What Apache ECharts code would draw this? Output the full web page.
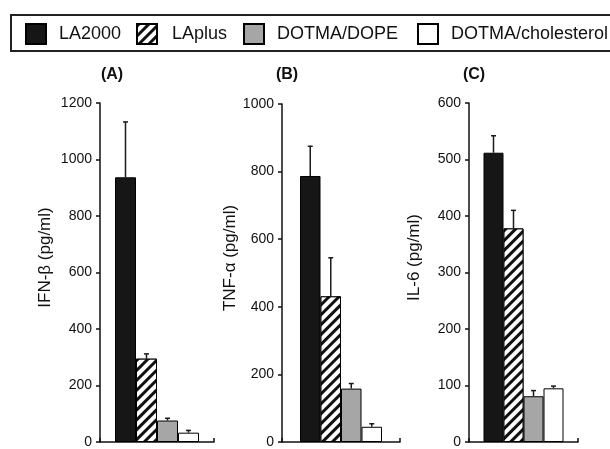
<!DOCTYPE html>
<html>
<head>
<meta charset="utf-8">
<script src="https://cdn.jsdelivr.net/npm/echarts@6/dist/echarts.min.js"></script>
<style>
html,body{margin:0;padding:0;background:#fff;}
#chart{width:610px;height:449px;}
</style>
</head>
<body>
<div id="chart"></div>
<script>
// ---- data ----
const formulations = ['LA2000', 'LAplus', 'DOTMA/DOPE', 'DOTMA/cholesterol'];
const panelTitles = ['(A)', '(B)', '(C)'];
const axisNames = ['IFN-\u03b2 (pg/ml)', 'TNF-\u03b1 (pg/ml)', 'IL-6 (pg/ml)'];
// panel A: IFN-beta
const ifnMean = [937, 295, 76, 33];
const ifnErr = [196, 17, 8, 8];
// panel B: TNF-alpha
const tnfMean = [787, 431, 158, 45];
const tnfErr = [88, 114, 15, 9];
// panel C: IL-6
const il6Mean = [512, 378, 81, 95];
const il6Err = [30, 32, 10, 4];
const yMax = [1200, 1000, 600];
const yStep = [200, 200, 100];

// ---- layout / style ----
const means = [ifnMean, tnfMean, il6Mean];
const errs = [ifnErr, tnfErr, il6Err];
const grids = [
  {left: 100, top: 103, width: 114, height: 341},
  {left: 282, top: 104, width: 118, height: 340},
  {left: 469, top: 103, width: 109, height: 341}
];
const barW = [21, 20.5, 20];
const FONT = '"Liberation Sans", Arial, sans-serif';

const styles = [
  {color: '#161616', borderColor: '#000', borderWidth: 1},
  {color: '#ffffff', borderColor: '#000', borderWidth: 1,
   decal: {symbol: 'rect', symbolSize: 1, dashArrayX: [1, 0], dashArrayY: [2.6, 3.4],
           rotation: -Math.PI / 4, color: '#111', backgroundColor: '#fff'}},
  {color: '#a6a6a6', borderColor: '#000', borderWidth: 1},
  {color: '#ffffff', borderColor: '#000', borderWidth: 1}
];

const series = [];
for (let p = 0; p < 3; p++) {
  for (let i = 0; i < 4; i++) {
    series.push({
      name: formulations[i], type: 'bar', xAxisIndex: p, yAxisIndex: p,
      data: [means[p][i]], barWidth: barW[p], barGap: '0%',
      itemStyle: styles[i], silent: true, animation: false
    });
  }
  const errData = means[p].map((m, i) => [0, m, m + errs[p][i], i]);
  const bw = barW[p];
  series.push({
    type: 'custom', xAxisIndex: p, yAxisIndex: p, data: errData, z: 5,
    animation: false, silent: true,
    encode: {x: 0, y: [1, 2]},
    renderItem: function (params, api) {
      const base = api.coord([api.value(0), api.value(1)]);
      const top = api.coord([api.value(0), api.value(2)]);
      const x = base[0] + (api.value(3) - 1.5) * bw;
      const st = {stroke: '#1a1a1a', lineWidth: 1.5};
      return {type: 'group', children: [
        {type: 'line', shape: {x1: x, y1: base[1], x2: x, y2: top[1]}, style: st},
        {type: 'line', shape: {x1: x - 2.5, y1: top[1], x2: x + 2.5, y2: top[1]}, style: st}
      ]};
    }
  });
}

const nameGaps = [46, 41, 46];
const legendLeft = [25, 136, 243, 417];

const option = {
  backgroundColor: '#fff',
  animation: false,
  textStyle: {fontFamily: FONT},
  grid: grids,
  xAxis: grids.map((g, p) => ({
    type: 'category', gridIndex: p, data: [''], boundaryGap: true,
    axisLine: {lineStyle: {color: '#111', width: 1.5}},
    axisTick: {show: true, inside: true, length: 4, lineStyle: {color: '#111', width: 1.5}},
    axisLabel: {show: false}, splitLine: {show: false}
  })),
  yAxis: grids.map((g, p) => ({
    type: 'value', gridIndex: p, min: 0, max: yMax[p], interval: yStep[p],
    name: axisNames[p], nameLocation: 'middle', nameRotate: 90, nameGap: nameGaps[p],
    nameTextStyle: {fontSize: 17, color: '#111', fontFamily: FONT, padding: [0, 0, 0, 30]},
    axisLine: {show: true, lineStyle: {color: '#111', width: 1.5}},
    axisTick: {show: true, length: 4, lineStyle: {color: '#111', width: 1.5}},
    axisLabel: {fontSize: 14, color: '#111', margin: 8, fontFamily: FONT,
                formatter: function (v) { return String(v); }},
    splitLine: {show: false}
  })),
  legend: formulations.map((f, i) => ({
    data: [f], left: legendLeft[i], top: 23, itemWidth: 20, itemHeight: 20,
    icon: 'rect', padding: 0, selectedMode: false,
    textStyle: {fontSize: 18, color: '#111', fontFamily: FONT, padding: [0, 0, 0, i === 1 ? 10 : 8]}
  })),
  graphic: [
    {type: 'rect', shape: {x: 11, y: 15, width: 700, height: 36},
     style: {fill: 'none', stroke: '#222', lineWidth: 2}, silent: true, z: -1},
    {type: 'text', x: 112, y: 75, style: {text: panelTitles[0], font: 'bold 16px ' + FONT, fill: '#111', textAlign: 'center', textVerticalAlign: 'middle'}},
    {type: 'text', x: 287, y: 75, style: {text: panelTitles[1], font: 'bold 16px ' + FONT, fill: '#111', textAlign: 'center', textVerticalAlign: 'middle'}},
    {type: 'text', x: 474, y: 75, style: {text: panelTitles[2], font: 'bold 16px ' + FONT, fill: '#111', textAlign: 'center', textVerticalAlign: 'middle'}}
  ],
  series: series
};

const chart = echarts.init(document.getElementById('chart'), null, {renderer: 'canvas'});
chart.setOption(option);
</script>
</body>
</html>
